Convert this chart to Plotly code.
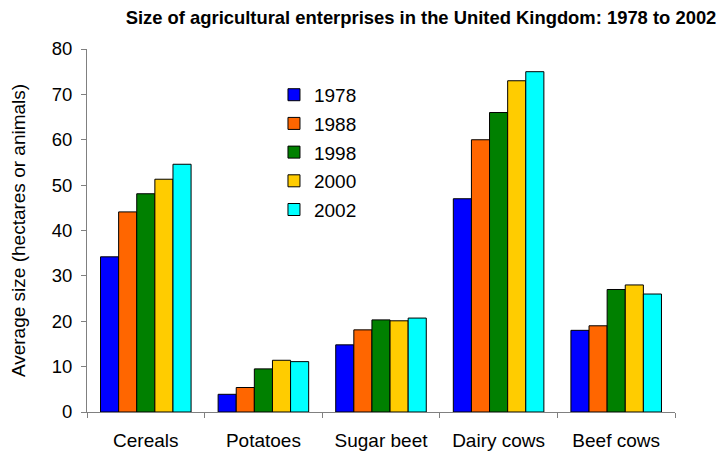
import plotly.graph_objects as go

categories = ["Cereals", "Potatoes", "Sugar beet", "Dairy cows", "Beef cows"]
years = ["1978", "1988", "1998", "2000", "2002"]
v1978 = [34.2, 3.9, 14.8, 47, 18]
v1988 = [44.1, 5.4, 18.1, 60, 19]
v1998 = [48.1, 9.5, 20.3, 66, 27]
v2000 = [51.3, 11.4, 20.1, 73, 28]
v2002 = [54.6, 11.1, 20.7, 75, 26]
series = [v1978, v1988, v1998, v2000, v2002]
colors = ["#0000FF", "#FF6600", "#008000", "#FFCC00", "#00FFFF"]

fig = go.Figure()
for y, vals, c in zip(years, series, colors):
    fig.add_trace(go.Bar(x=categories, y=vals, name=y, legendgroup=y,
                         marker=dict(color=c, line=dict(color="black", width=1))))

fig.update_layout(
    width=724, height=454,
    margin=dict(l=87, r=49, t=49, b=42),
    plot_bgcolor="white", paper_bgcolor="white",
    barmode="group", bargap=0.23, bargroupgap=0,
    font=dict(family="Liberation Sans, Arial", color="black", size=18.5),
    title=dict(text="<b>Size of agricultural enterprises in the United Kingdom: 1978 to 2002</b>",
               font=dict(size=18.4), x=0.5815, xanchor="center", y=0.962, yanchor="middle"),
    legend=dict(x=0.318, y=0.926, xanchor="left", yanchor="top", bgcolor="rgba(0,0,0,0)",
                font=dict(size=19), tracegroupgap=1, traceorder="grouped"),
    showlegend=True,
)
fig.update_xaxes(showline=True, linecolor="#808080", ticks="outside", tickson="boundaries",
                 ticklen=5, tickcolor="#808080", tickfont=dict(size=19), showgrid=False,
                 ticklabelstandoff=11, automargin=False)
fig.update_yaxes(range=[0, 80], dtick=10, showline=True, linecolor="#808080", ticks="outside",
                 ticklen=5, tickcolor="#808080", tickfont=dict(size=18.5), showgrid=False,
                 zeroline=False, ticklabelstandoff=5, automargin=False,
                 title=dict(text="Average size (hectares or animals)", font=dict(size=19), standoff=21))
fig.write_html("out.html", config={"displayModeBar": False},
               post_script="document.body.style.margin='0px';")
